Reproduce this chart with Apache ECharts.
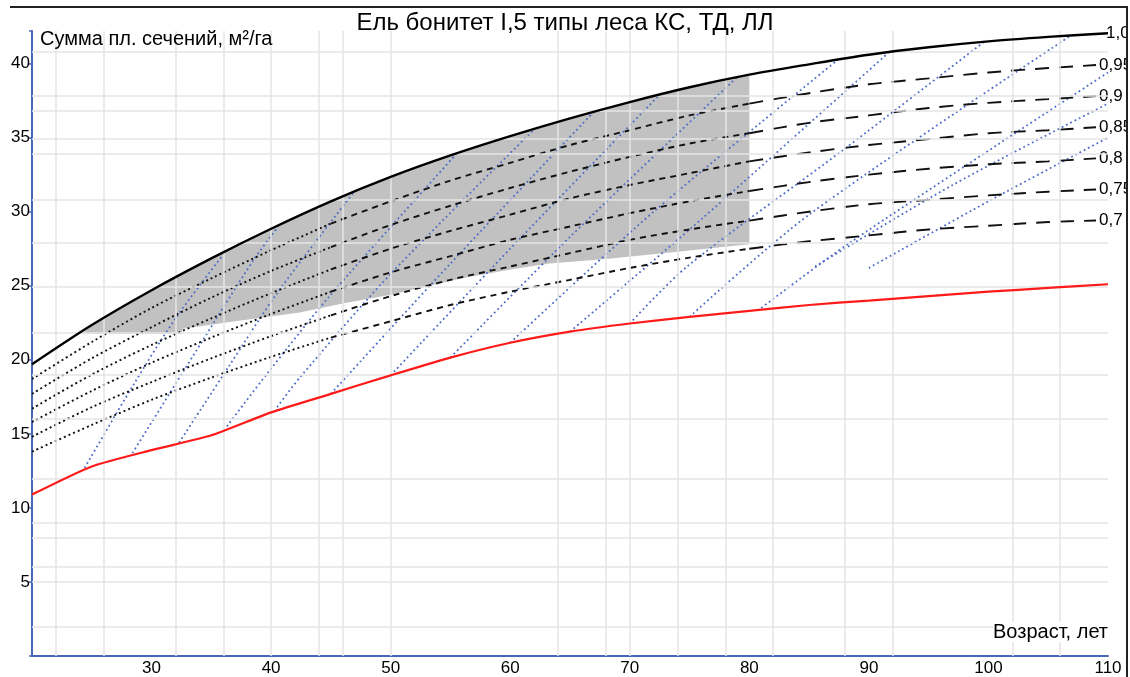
<!DOCTYPE html>
<html>
<head>
<meta charset="utf-8">
<script src="https://cdn.jsdelivr.net/npm/echarts@6/dist/echarts.min.js"></script>
<style>
  html, body { margin: 0; padding: 0; background: #fff; }
  #chart { width: 1130px; height: 677px; }
</style>
</head>
<body>
<div id="chart"></div>
<script>
// Basal area (m²/ha) by age for spruce, site class I.5

// Full-stocking curve (1,0)
const fullAges   = [20, 25, 30, 35, 40, 45, 50, 55, 60, 65, 70, 75, 80, 85, 90, 95, 100, 105, 110];
const fullValues = [19.7, 22.35, 24.7, 26.85, 28.85, 30.7, 32.35, 33.8, 35.1, 36.3, 37.4, 38.4, 39.25, 39.95, 40.6, 41.1, 41.5, 41.8, 42.05];

// Lower red curve
const redAges   = [20, 25, 30, 35, 40, 45, 50, 55, 60, 65, 70, 75, 80, 85, 90, 95, 100, 105, 110];
const redValues = [10.9, 12.8, 13.9, 14.9, 16.45, 17.7, 18.95, 20.15, 21.15, 21.9, 22.45, 22.9, 23.3, 23.7, 24.0, 24.3, 24.6, 24.85, 25.1];

// Relative stocking lines
const stockAges = [20, 25, 30, 35, 40, 45, 50, 55, 60, 65, 70, 75, 80, 85, 90, 95, 100, 105, 109];
const stock095 = [18.7, 21.2, 23.5, 25.5, 27.4, 29.2, 30.7, 32.1, 33.3, 34.5, 35.5, 36.5, 37.3, 38.0, 38.6, 39.0, 39.4, 39.7, 39.9];
const stock090 = [17.7, 20.1, 22.2, 24.2, 26.0, 27.6, 29.1, 30.4, 31.6, 32.7, 33.7, 34.6, 35.3, 36.0, 36.5, 37.0, 37.35, 37.6, 37.8];
const stock085 = [16.7, 19.0, 21.0, 22.8, 24.5, 26.1, 27.5, 28.7, 29.8, 30.9, 31.8, 32.6, 33.4, 34.0, 34.5, 34.9, 35.3, 35.5, 35.7];
const stock080 = [15.8, 17.9, 19.8, 21.5, 23.1, 24.6, 25.9, 27.0, 28.1, 29.0, 29.9, 30.7, 31.4, 32.0, 32.5, 32.9, 33.2, 33.4, 33.6];
const stock075 = [14.8, 16.8, 18.5, 20.1, 21.6, 23.0, 24.3, 25.4, 26.3, 27.2, 28.1, 28.8, 29.4, 30.0, 30.5, 30.8, 31.1, 31.35, 31.5];
const stock070 = [13.8, 15.6, 17.3, 18.8, 20.2, 21.5, 22.6, 23.7, 24.6, 25.4, 26.2, 26.9, 27.5, 28.0, 28.4, 28.8, 29.05, 29.3, 29.4];
const stockNames = ['0,95', '0,9', '0,85', '0,8', '0,75', '0,7'];

// Lower edge of the shaded band (it ends at age 80)
const bandAges  = [24.2, 32.5, 32.6, 37, 42.4, 46, 50, 52.7, 56, 60, 63.3, 68, 74, 80];
const bandLower = [21.75, 21.75, 22.1, 22.6, 23.2, 23.8, 24.4, 24.9, 25.5, 26.1, 26.5, 26.8, 27.3, 27.8];

// Regrowth tracks (dotted blue), [age, basal area]
const tracks = [
  [[24.4, 12.7], [28.4, 18.2], [32, 22.8], [36, 27.1]],
  [[28.4, 13.7], [33.5, 20.3], [38.5, 26.7], [40.6, 29.0]],
  [[32.3, 14.4], [36.5, 19.6], [40.5, 24.5], [47, 31.4]],
  [[36.3, 15.5], [39.7, 19.1], [45, 24.4], [55.5, 33.9]],
  [[40.5, 16.8], [42.4, 18.8], [50, 25.8], [62, 35.55]],
  [[45, 17.7], [55, 26.5], [67, 36.75]],
  [[50, 18.95], [60, 27.5], [72.5, 37.9]],
  [[55, 20.15], [65, 28.3], [79, 39.1]],
  [[60, 21.15], [72, 30.0], [87.4, 40.25]],
  [[65, 21.9], [76, 29.5], [91.8, 40.85]],
  [[70, 22.45], [74.8, 26.3], [87.9, 34.2], [99.6, 41.45]],
  [[75, 22.9], [85, 29.8], [106.9, 41.9]],
  [[81, 23.5], [88.4, 27.9], [110, 39.4]],
  [[85.5, 26.3], [97, 31.8], [110, 37.3]],
  [[90, 26.2], [100, 30.7], [110, 35.0]]
];

// Reference grid positions
const gridAges   = [22, 26, 32, 36, 40, 44, 46, 50, 64, 68, 70, 74, 78, 82, 88, 92, 102, 106];
const gridValues = [2, 5, 6, 8, 9, 12, 16, 19, 21.8, 24.9, 27.9, 30.8, 33.9, 34.9, 36.8, 37.8, 40.8];

const FONT = '"Liberation Sans", Arial, sans-serif';
const AXIS_BLUE = '#4a66b8';
const pairs = (xs, ys) => xs.map((x, i) => [x, ys[i]]);
const sliceRange = (xs, ys, a, b) => pairs(xs, ys).filter(p => p[0] >= a && p[0] <= b);

const chart = echarts.init(document.getElementById('chart'), null, { renderer: 'canvas' });

const series = [];

// Shaded band between the lower edge and the full-stocking curve
series.push({
  type: 'custom',
  coordinateSystem: 'cartesian2d',
  z: 1,
  silent: true,
  data: [[bandAges[0], bandLower[0]]],
  renderItem: function (params, api) {
    const pts = [];
    bandAges.forEach((a, i) => pts.push(api.coord([a, bandLower[i]])));
    const endAge = bandAges[bandAges.length - 1];
    const fullAtEnd = fullValues[fullAges.indexOf(endAge)];
    pts.push(api.coord([endAge, fullAtEnd]));
    for (let i = fullAges.length - 1; i >= 0; i--) {
      if (fullAges[i] < endAge && fullAges[i] > bandAges[0]) pts.push(api.coord([fullAges[i], fullValues[i]]));
    }
    return { type: 'polygon', shape: { points: pts }, style: { fill: '#c1c1c1' } };
  }
});

// Light grid drawn above the shading
series.push({
  type: 'line',
  data: [],
  z: 2,
  silent: true,
  markLine: {
    silent: true,
    symbol: ['none', 'none'],
    animation: false,
    label: { show: false },
    lineStyle: { color: '#e4e4e4', width: 1.5, type: 'solid' },
    data: gridAges.map(v => ({ xAxis: v })).concat(gridValues.map(v => ({ yAxis: v })))
  }
});

// Regrowth tracks
tracks.forEach(t => {
  series.push({
    type: 'line', data: t, symbol: 'none', silent: true, z: 3, smooth: 0.3,
    lineStyle: { color: '#4f6cc6', width: 1.8, type: [1.8, 3] }
  });
});

// Stocking lines: dotted at young ages, dashed later
[stock095, stock090, stock085, stock080, stock075, stock070].forEach((vals, k) => {
  const segs = [
    { a: 20, b: 45, dash: [2, 3] },
    { a: 45, b: 80, dash: [6, 5] },
    { a: 80, b: 110, dash: [14, 10] }
  ];
  segs.forEach((s, j) => {
    const last = j === segs.length - 1;
    series.push({
      type: 'line', data: sliceRange(stockAges, vals, s.a, s.b), symbol: 'none', silent: true, z: 4, smooth: 0.3,
      lineStyle: { color: '#111', width: 1.9, type: s.dash },
      endLabel: last ? {
        show: true, formatter: stockNames[k], distance: 3,
        color: '#000', fontSize: 17, fontFamily: FONT
      } : { show: false }
    });
  });
});

// Red curve
series.push({
  type: 'line', data: pairs(redAges, redValues), symbol: 'none', silent: true, z: 5, smooth: 0.2,
  lineStyle: { color: '#ff1a1a', width: 2.2 }
});

// Full-stocking curve
series.push({
  type: 'line', data: pairs(fullAges, fullValues), symbol: 'none', silent: true, z: 6, smooth: 0.3,
  lineStyle: { color: '#000', width: 2.4 },
  endLabel: { show: true, formatter: '1,0', distance: -2, color: '#000', fontSize: 17, fontFamily: FONT }
});

chart.setOption({
  animation: false,
  backgroundColor: '#fff',
  title: {
    text: 'Ель бонитет I,5 типы леса КС, ТД, ЛЛ',
    left: 'center', top: 6,
    textStyle: { fontFamily: FONT, fontSize: 24, fontWeight: 'normal', color: '#000' }
  },
  grid: { left: 32, right: 22, top: 31, bottom: 21, containLabel: false },
  xAxis: {
    type: 'value', min: 20, max: 110, interval: 5,
    axisLine: { show: true, onZero: false, lineStyle: { color: AXIS_BLUE, width: 2 } },
    axisTick: { show: false },
    splitLine: { show: false },
    axisLabel: {
      color: '#000', fontSize: 17, fontFamily: FONT, margin: 4,
      formatter: v => (v % 10 === 0 && v > 20) ? String(v) : ''
    }
  },
  yAxis: {
    type: 'value', min: 0, max: 42.2, interval: 5,
    axisLine: { show: true, onZero: false, lineStyle: { color: AXIS_BLUE, width: 2 } },
    axisTick: { show: true, length: 3, lineStyle: { color: AXIS_BLUE, width: 1.5 } },
    splitLine: { show: false },
    axisLabel: {
      color: '#000', fontSize: 17, fontFamily: FONT, margin: 2,
      formatter: v => (v % 5 === 0 && v > 0) ? String(v) : ''
    }
  },
  graphic: [
    { type: 'text', z: 100, left: 40, top: 29, style: { text: 'Сумма пл. сечений, м²/га', font: '20px ' + FONT, fill: '#000' } },
    { type: 'text', z: 100, right: 22, top: 622, style: { text: 'Возраст, лет', font: '20px ' + FONT, fill: '#000', backgroundColor: '#fff' } },
    { type: 'rect', z: 99, shape: { x: 1128, y: 0, width: 2, height: 677 }, style: { fill: '#fff' } },
    { type: 'line', z: 100, shape: { x1: 10, y1: 7, x2: 1128, y2: 7 }, style: { stroke: '#222', lineWidth: 2 } },
    { type: 'line', z: 100, shape: { x1: 1127, y1: 7, x2: 1127, y2: 677 }, style: { stroke: '#222', lineWidth: 2 } }
  ],
  series: series
});
</script>
</body>
</html>
